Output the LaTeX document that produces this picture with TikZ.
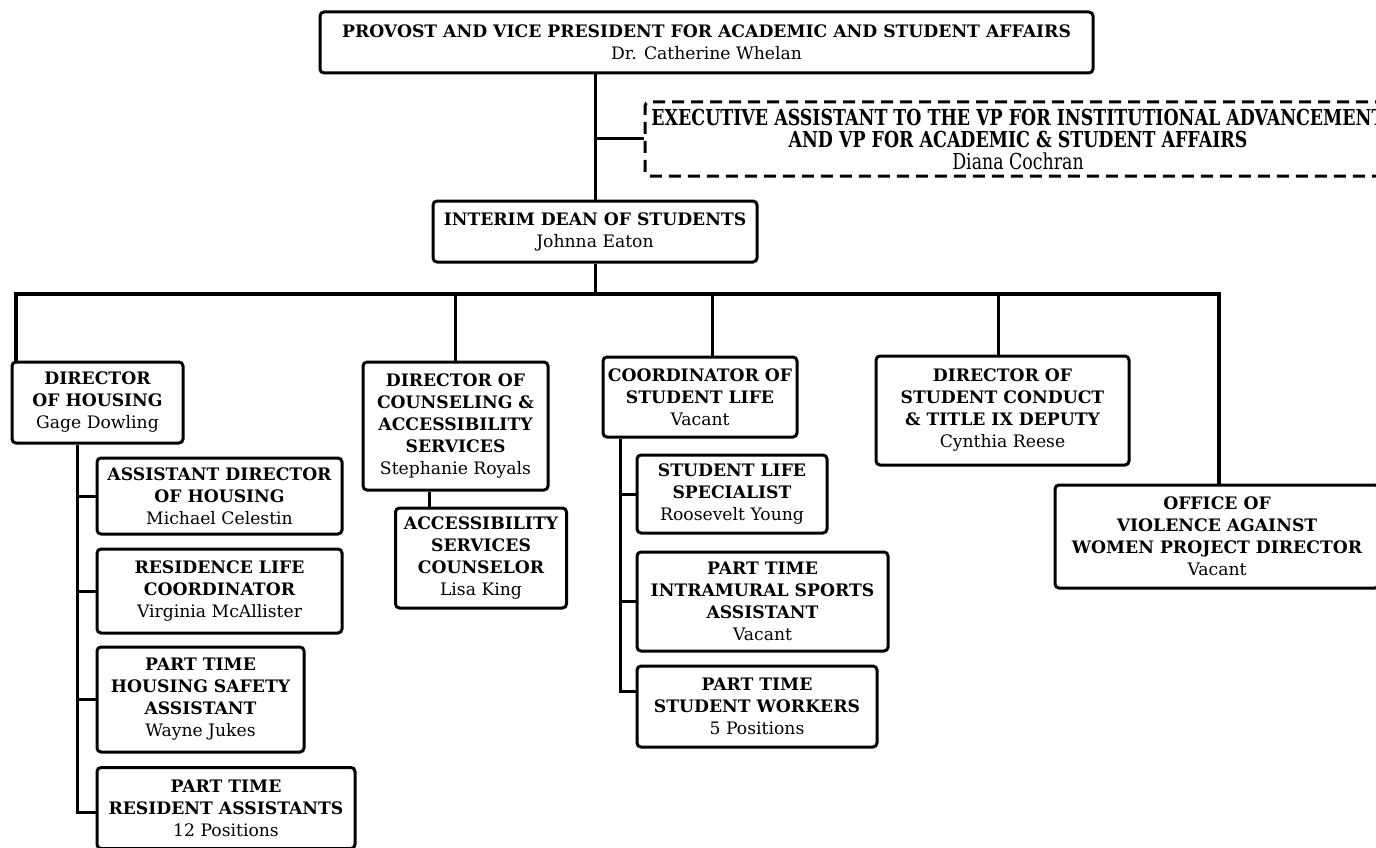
\documentclass[tikz,border=0pt]{standalone}
\usepackage{fontspec}
\setmainfont{DejaVu Serif}
\newfontfamily\tallfont[FakeStretch=0.79]{DejaVu Serif}
\usepackage{tikz}

\begin{document}
\begin{tikzpicture}[x=1pt, y=-1pt, line width=3pt,
  main/.style = {draw, rounded corners=4pt, align=center, inner sep=0pt, font=\fontsize{17.2}{22}\selectfont\bfseries},
  dashbox/.style = {main, dash pattern=on 12pt off 7pt, font=\tallfont\fontsize{22}{22}\selectfont\bfseries}]
\useasboundingbox (0,0) rectangle (1376,848);
\node[main, minimum width=773pt, minimum height=61pt] (1) at (706.5,42.5) {PROVOST AND VICE PRESIDENT FOR ACADEMIC AND STUDENT AFFAIRS\\\textmd{Dr. Catherine Whelan}};
\node[dashbox, minimum width=746pt, minimum height=74pt] (2) at (1018,139) {EXECUTIVE ASSISTANT TO THE VP FOR INSTITUTIONAL ADVANCEMENT\\AND VP FOR ACADEMIC \& STUDENT AFFAIRS\\\textmd{Diana Cochran}};
\node[main, minimum width=324pt, minimum height=61pt] (3) at (595,231.5) {INTERIM DEAN OF STUDENTS\\\textmd{Johnna Eaton}};
\node[main, minimum width=171pt, minimum height=81pt] (4) at (97.5,402.5) {DIRECTOR\\OF HOUSING\\\textmd{Gage Dowling}};
\node[main, minimum width=185pt, minimum height=128pt] (5) at (455.5,426) {DIRECTOR OF\\COUNSELING \&\\ACCESSIBILITY\\SERVICES\\\textmd{Stephanie Royals}};
\node[main, minimum width=194pt, minimum height=80pt] (6) at (700,397) {COORDINATOR OF\\STUDENT LIFE\\\textmd{Vacant}};
\node[main, minimum width=253pt, minimum height=109pt] (7) at (1002.5,410.5) {DIRECTOR OF\\STUDENT CONDUCT\\\& TITLE IX DEPUTY\\\textmd{Cynthia Reese}};
\node[main, minimum width=324pt, minimum height=103pt] (8) at (1217,536.5) {OFFICE OF\\VIOLENCE AGAINST\\WOMEN PROJECT DIRECTOR\\\textmd{Vacant}};
\node[main, minimum width=245pt, minimum height=76pt] (9) at (219.5,496) {ASSISTANT DIRECTOR\\OF HOUSING\\\textmd{Michael Celestin}};
\node[main, minimum width=245pt, minimum height=84pt] (10) at (219.5,591) {RESIDENCE LIFE\\COORDINATOR\\\textmd{Virginia McAllister}};
\node[main, minimum width=207pt, minimum height=105pt] (11) at (200.5,699.5) {PART TIME\\HOUSING SAFETY\\ASSISTANT\\\textmd{Wayne Jukes}};
\node[main, minimum width=258pt, minimum height=81pt] (12) at (226,808) {PART TIME\\RESIDENT ASSISTANTS\\\textmd{12 Positions}};
\node[main, minimum width=171pt, minimum height=100pt] (13) at (481,558) {ACCESSIBILITY\\SERVICES\\COUNSELOR\\\textmd{Lisa King}};
\node[main, minimum width=190pt, minimum height=78pt] (14) at (732,494) {STUDENT LIFE\\SPECIALIST\\\textmd{Roosevelt Young}};
\node[main, minimum width=251pt, minimum height=99pt] (15) at (762.5,601.5) {PART TIME\\INTRAMURAL SPORTS\\ASSISTANT\\\textmd{Vacant}};
\node[main, minimum width=240pt, minimum height=81pt] (16) at (757,706.5) {PART TIME\\STUDENT WORKERS\\\textmd{5 Positions}};
\coordinate (b) at (595,294);
\draw (3.north |- 1.south) -- (3.north);
\draw (3.north |- 2.west) -- (2.west);
\draw (3.south) -- (b);
\draw[line width=4pt] ([xshift=-82pt]4.north) |- (b) -| ([xshift=2pt]8.north);
\draw (5.north) -- (5.north |- b);
\draw ([xshift=12pt]6.north) -- ([xshift=12pt]6.north |- b);
\draw ([xshift=-4pt]7.north) -- ([xshift=-4pt]7.north |- b);
\draw ([xshift=-20pt]4.south) |- ([yshift=-4pt]12.west);
\draw ([xshift=-20pt]4.south |- 9.west) -- (9.west);
\draw ([xshift=-20pt]4.south |- 10.west) -- (10.west);
\draw ([xshift=-20pt]4.south |- 11.west) -- (11.west);
\draw ([xshift=-26pt]5.south) -- ([xshift=-26pt]5.south |- 13.north);
\draw ([xshift=-80pt]6.south) |- ([yshift=15pt]16.west);
\draw ([xshift=-80pt]6.south |- 14.west) -- (14.west);
\draw ([xshift=-80pt]6.south |- 15.west) -- (15.west);
\end{tikzpicture}
\end{document}
